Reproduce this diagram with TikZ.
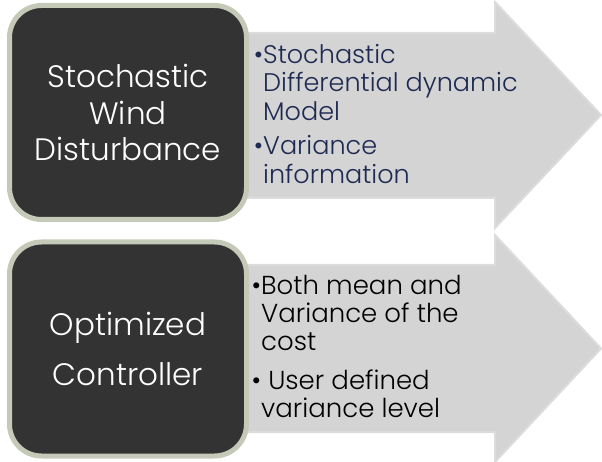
\documentclass[tikz,border=0pt]{standalone}
\usepackage{fontspec}
\setmainfont{Poppins}[UprightFont=* Light]
\usetikzlibrary{positioning}
\definecolor{boxfill}{HTML}{333333}
\definecolor{boxrim}{HTML}{C5CAB8}
\definecolor{arrowfill}{HTML}{D4D4D4}
\definecolor{arrowrim}{HTML}{DCDCDC}
\definecolor{navytext}{HTML}{1E2A52}
\tikzset{
  flowarrow/.style={fill=arrowfill, draw=arrowrim, line width=2pt, line join=miter},
  darkbox/.style={draw=boxrim, fill=boxfill, line width=5pt, rounded corners=32pt,
    minimum width=237pt, minimum height=214pt, inner sep=0pt,
    text=white, align=center},
  bullettext/.style={anchor=north west, align=left, inner sep=0pt}
}
\begin{document}
\begin{tikzpicture}[x=1pt, y=-1pt]
  \useasboundingbox (0,0) rectangle (602,462);
  % wind
  \draw[flowarrow] (240,33) -- (495,33) -- (495,2) -- (601,115) -- (495,228) -- (495,198) -- (240,198) -- cycle;
  \node[darkbox, font=\fontsize{31}{36.5}\selectfont] (wind) at (128,112.5) {Stochastic\\Wind\\Disturbance};
  \node[bullettext, text=navytext, font=\fontsize{25.5}{28.5}\selectfont] (windnotes) at (263,44)
    {\llap{\textbullet}Stochastic\\Differential dynamic\\Model\\[6pt]\llap{\textbullet}Variance\\information};
  % controller
  \draw[flowarrow] (240,265) -- (495,265) -- (495,235) -- (601,348.5) -- (495,462) -- (495,432) -- (240,432) -- cycle;
  \node[darkbox, font=\fontsize{31}{50}\selectfont] (ctrl) at (128,349) {Optimized\\Controller};
  \node[bullettext, text=black, font=\fontsize{26}{28}\selectfont] (ctrlnotes) at (261,275)
    {\llap{\textbullet}Both mean and\\Variance of the\\cost\\[11pt]\llap{\textbullet} User defined\\variance level};
\end{tikzpicture}
\end{document}
